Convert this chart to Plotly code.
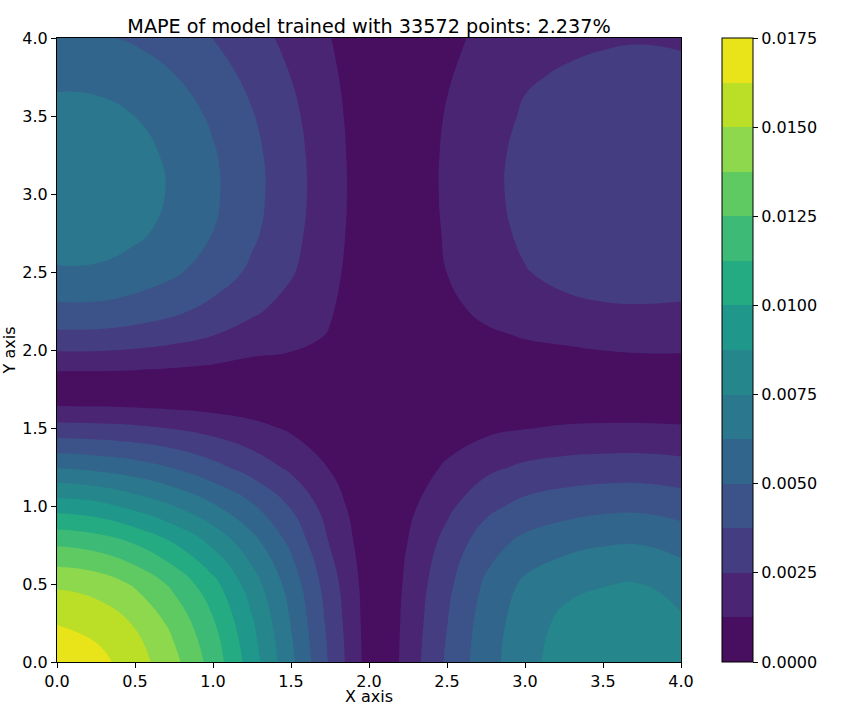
import plotly.graph_objects as go

# grid the field was read on (denser close to the dark cross)
x_vals = [0, 0.25, 0.5, 0.75, 1.0, 1.25, 1.5, 1.75, 1.9, 2.06, 2.25, 2.5, 2.75, 3.0, 3.25, 3.5, 3.75, 4.0]
y_vals = [0, 0.25, 0.5, 0.75, 1.0, 1.25, 1.5, 1.65, 1.75, 1.9, 2.1, 2.25, 2.5, 2.75, 3.0, 3.25, 3.5, 3.75, 4.0]

# error values, one list per y row
row_000 = [.0172, .0167, .0156, .0141, .012, .00935, .00654, .00358, .00188, 0, .0018, .00395, .00575, .00707, .0081, .00845, .0085, .0081]
row_025 = [.0162, .0158, .0149, .0134, .0114, .0089, .0062, .00337, .00177, 0, .0017, .00372, .0056, .0069, .0078, .00805, .0081, .0077]
row_050 = [.0148, .0145, .0136, .0122, .0104, .0081, .0057, .00306, .00161, 0, .00154, .00345, .0052, .0065, .00715, .00745, .0075, .007]
row_075 = [.01243, .0121, .0113, .0101, .0086, .0068, .0048, .00246, .00128, 0, .0013, .00295, .0045, .0054, .0059, .0062, .00625, .00586]
row_100 = [.00944, .00915, .0084, .0075, .0064, .00515, .00365, .0019, .00095, 0, .00095, .00222, .0034, .0041, .00445, .00468, .00471, .00445]
row_125 = [.00617, .0059, .0055, .0049, .0041, .0032, .00225, .00118, .00058, 0, .0006, .0014, .0022, .0027, .00295, .00305, .00307, .00291]
row_150 = [.00291, .00285, .00272, .00243, .00205, .0016, .00108, .00052, .00026, 0, .00028, .00067, .00097, .0012, .00137, .00143, .00144, .00137]
row_165 = [.00115, .00112, .00104, .00093, .0008, .00063, .00042, .00021, .0001, 0, .00011, .00026, .00039, .00047, .00054, .00057, .00057, .00054]
row_175 = [0, 0, 0, 0, 0, 0, 0, 0, 0, 0, 0, 0, 0, 0, 0, 0, 0, 0]
row_190 = [.00165, .00164, .00155, .0014, .0012, .00095, .00085, .0005, .00025, .00005, .00012, .00036, .00055, .0007, .00075, .00085, .0009, .0009]
row_210 = [.00351, .0035, .00331, .00299, .00255, .00203, .00175, .00118, .00058, .00012, .00027, .00078, .00108, .00135, .00152, .00168, .00178, .00178]
row_225 = [.00466, .00465, .00439, .00397, .00338, .00269, .00205, .00135, .00078, .00018, .00035, .00095, .0015, .00202, .00223, .00238, .00241, .00238]
row_250 = [.00611, .00608, .00574, .00519, .00442, .00352, .00262, .00158, .00091, .00026, .00043, .00126, .00193, .00245, .00278, .00289, .00291, .00287]
row_275 = [.0069, .00686, .00648, .00586, .00499, .00397, .00288, .00171, .00101, .00029, .00048, .00138, .00212, .00269, .00296, .00315, .0032, .00315]
row_300 = [.0072, .00715, .00675, .0061, .0052, .00414, .003, .00178, .00105, .0003, .0005, .00145, .00222, .0028, .0031, .0033, .00335, .0033]
row_325 = [.0071, .00704, .00665, .00601, .00512, .00408, .00295, .00175, .00103, .0003, .0005, .00143, .0022, .00277, .00307, .00327, .00332, .00327]
row_350 = [.00665, .00661, .00624, .00564, .00481, .00383, .00278, .00165, .00097, .00025, .00045, .00133, .00204, .00262, .00288, .00304, .00308, .00304]
row_375 = [.006, .00593, .0056, .00506, .00432, .00344, .00249, .00148, .00087, .0002, .00038, .00116, .00178, .0024, .0026, .00272, .00275, .0027]
row_400 = [.0052, .00515, .00486, .00439, .00374, .00298, .00216, .00128, .00076, .00015, .00032, .00099, .00151, .002, .00228, .0024, .00245, .0024]

z_vals = [row_000, row_025, row_050, row_075, row_100, row_125, row_150, row_165, row_175, row_190,
          row_210, row_225, row_250, row_275, row_300, row_325, row_350, row_375, row_400]

band_colors = ["#480e5f", "#4a2574", "#453d82", "#3c5389", "#32658b", "#2b778d", "#25868c",
               "#1f988b", "#25ab82", "#3dba76", "#5fca62", "#8dd84c", "#bbdf27", "#e8e419"]

# stepped colorscale so each band is one flat colour
scale = []
for i, c in enumerate(band_colors):
    scale.append([i / 14, c])
    scale.append([(i + 1) / 14, c])

fig = go.Figure(go.Contour(
    x=x_vals, y=y_vals, z=z_vals,
    colorscale=scale, zmin=0, zmax=0.0175,
    autocontour=False,
    contours=dict(start=0, end=0.0175, size=0.00125, coloring="fill", showlines=False),
    line=dict(width=0, smoothing=1.3),
    colorbar=dict(
        x=1.0657, xanchor="left", xpad=0, y=0.5, yanchor="middle", ypad=0,
        len=1, lenmode="fraction", thickness=31, thicknessmode="pixels",
        tick0=0, dtick=0.0025, tickformat=".4f", ticks="outside", ticklen=5, tickwidth=1,
        tickcolor="black", outlinewidth=1, outlinecolor="black",
        tickfont=dict(family="DejaVu Sans", size=16, color="black"),
    ),
))

axis_style = dict(
    range=[0, 4], dtick=0.5, tick0=0, tickformat=".1f",
    ticks="outside", ticklen=5, tickwidth=1, tickcolor="black",
    showline=True, linecolor="black", linewidth=1, mirror=True,
    showgrid=False, zeroline=False,
    tickfont=dict(family="DejaVu Sans", size=16, color="black"),
)

fig.update_layout(
    width=864, height=720,
    margin=dict(l=57, r=183, t=38, b=58, autoexpand=False),
    paper_bgcolor="white", plot_bgcolor="white",
    title=dict(
        text="MAPE of model trained with 33572 points: 2.237%",
        x=(369 / 864), xanchor="center", y=1 - 26 / 720, yanchor="middle",
        font=dict(family="DejaVu Sans", size=19.2, color="black"),
    ),
    xaxis=axis_style,
    yaxis=dict(axis_style, title=dict(text="Y axis", standoff=4, font=dict(family="DejaVu Sans", size=16, color="black"))),
)

# the axis title can't sit this close with standoff, so it goes in as an annotation
fig.add_annotation(text="X axis", xref="paper", yref="paper", x=0.5, y=-0.0545,
                   xanchor="center", yanchor="middle", showarrow=False, height=14, borderpad=0,
                   font=dict(family="DejaVu Sans", size=16, color="black"))

fig.write_html("out.html", config={"displayModeBar": False}, post_script="document.body.style.margin='0'")
